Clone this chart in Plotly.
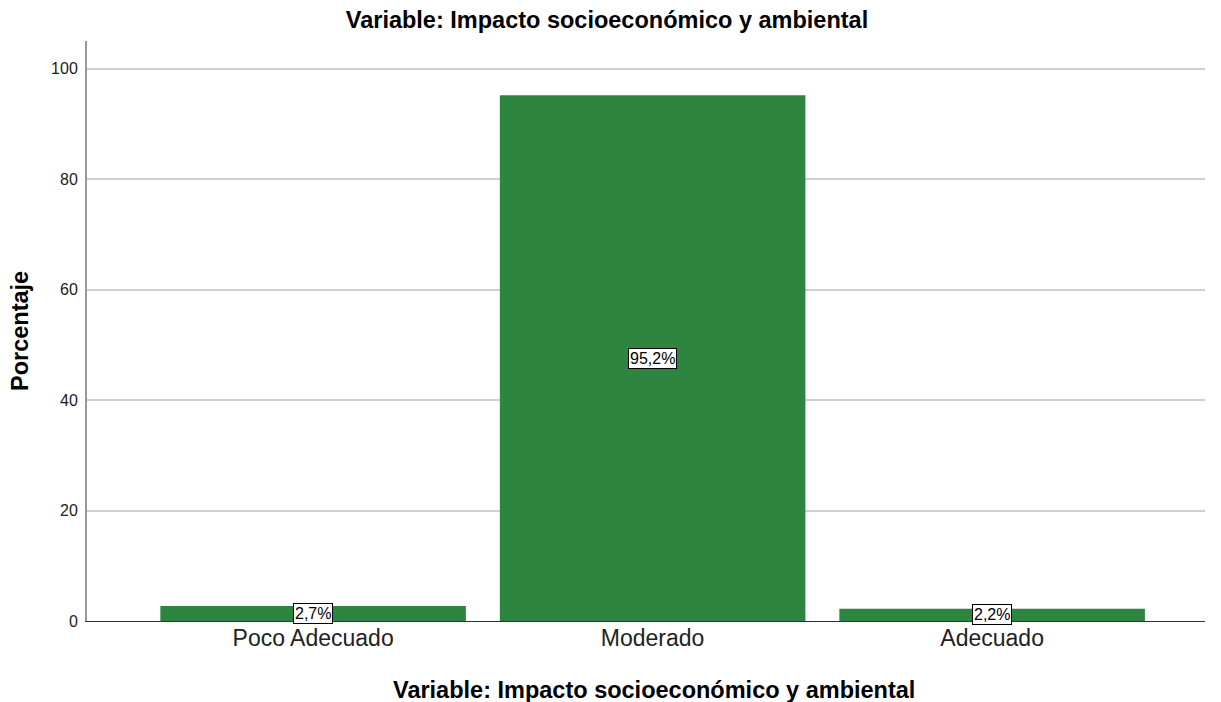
import plotly.graph_objects as go

categories = ["Poco Adecuado", "Moderado", "Adecuado"]
values = [2.7, 95.2, 2.2]
labels = ["2,7%", "95,2%", "2,2%"]

title = "Variable: Impacto socioeconómico y ambiental"
y_title = "Porcentaje"
green = "#2e8540"
font = "Liberation Sans, Arial, sans-serif"

W, H = 1221, 702
L, R, T, B = 87, 16, 41, 81

fig = go.Figure(go.Bar(x=categories, y=values, marker=dict(color=green, line=dict(width=0)),
                       width=0.9, hoverinfo="skip"))

for c, v, t in zip(categories, values, labels):
    fig.add_annotation(x=c, y=v / 2, text=t, showarrow=False,
                       font=dict(family=font, size=16, color="black"),
                       bgcolor="white", bordercolor="black", borderwidth=1, borderpad=1)

fig.add_annotation(xref="paper", yref="paper", x=0.507, y=0, yshift=-69,
                   xanchor="center", yanchor="middle", showarrow=False,
                   text="<b>" + title + "</b>", font=dict(family=font, size=23.5, color="black"))
fig.add_annotation(xref="paper", yref="paper", x=0, y=0.5, xshift=-67,
                   xanchor="center", yanchor="middle", showarrow=False, textangle=-90,
                   text="<b>" + y_title + "</b>", font=dict(family=font, size=23.5, color="black"))

fig.update_layout(
    width=W, height=H,
    margin=dict(l=L, r=R, t=T, b=B),
    plot_bgcolor="white", paper_bgcolor="white",
    font=dict(family=font, color="black"),
    showlegend=False,
    title=dict(text="<b>" + title + "</b>", x=607 / W, xanchor="center", y=1 - 20 / H, yanchor="middle",
               font=dict(family=font, size=23.5, color="black")),
    xaxis=dict(type="category", range=[-0.666, 2.627], showgrid=False, automargin=False,
               showline=True, linecolor="#333333", linewidth=1,
               ticks="", ticklabelstandoff=-4,
               tickfont=dict(family=font, size=23, color="#222222")),
    yaxis=dict(range=[0, 105], tickvals=[0, 20, 40, 60, 80, 100], automargin=False,
               showgrid=True, gridcolor="#d0d0d0", gridwidth=2,
               showline=True, linecolor="#999999", linewidth=2,
               zeroline=False, ticks="", ticklen=0, ticklabelstandoff=4,
               tickfont=dict(family=font, size=16, color="#222222")),
)

fig.write_html("out.html", config={"displayModeBar": False},
               post_script="document.body.style.margin='0';document.body.style.overflow='hidden';")
